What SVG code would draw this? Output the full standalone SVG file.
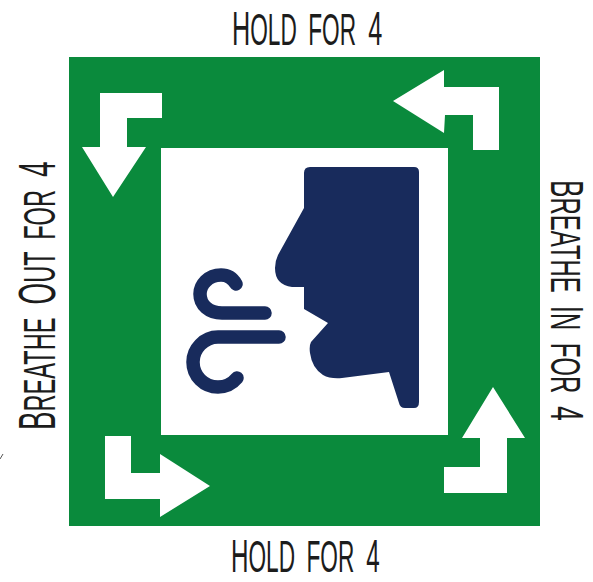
<svg xmlns="http://www.w3.org/2000/svg" width="593" height="582" viewBox="0 0 593 582">
<style>
.lbl{font-family:"Liberation Sans",Arial,sans-serif;fill:#1c1c1c;font-size:49px;word-spacing:10px}
.bot{font-size:47px}
.side{font-size:52px}
.sm{font-size:44px}
.rgt{font-size:46px}
.rs{font-size:42px}
.arrow{fill:#fff}
.wind{fill:none;stroke:#182b5c;stroke-width:13.5;stroke-linecap:round}
</style>
<rect width="593" height="582" fill="#fff"/>
<g id="board"><rect x="69" y="57" width="471" height="469" fill="#0a8a3c"/><rect x="161" y="148" width="287" height="287" fill="#fff"/></g>
<g id="connectors">
<polygon class="arrow" points="162,93 162,118 127,118 127,147 146,147 113,197 82,147 100,147 100,93"/>
<polygon class="arrow" points="499,150 473,150 473,115 445,115 444,133 393,101 444,70 444,87 499,87"/>
<polygon class="arrow" points="444,493 444,467 480,467 480,438 462,438 493,387 525,438 507,438 507,493"/>
<polygon class="arrow" points="105,436 131,436 131,473 160,473 160,454 210,486 160,517 160,499 105,499"/>
</g>
<g id="face">
<path d="M304,173Q304,167 310,167H414Q419,167 419,172V402Q419,408 414,408H405Q400,408 399,403L389,372L342,378Q330,379 323,375Q312,368 310,353Q309,346 311,342L328,323L304,309V287H292Q275,285 275,268Q275,261 278,255L304,208Z" fill="#182b5c"/>
<path class="wind" d="M236,284C232,277 226,275 221,275C208,275 200,285 200,294C200,305 209,313 222,313H265"/>
<path class="wind" d="M279,337H218C204,337 193,349 193,362C193,376 204,387 218,387C225,387 232,384 237,378"/>
</g>
<g id="label-top"><text class="lbl" transform="translate(232,45) scale(.515,1)">H<tspan class="sm">OLD FOR</tspan> 4</text></g>
<g id="label-bottom"><text class="lbl bot" transform="translate(231,572) scale(.515,1)">H<tspan class="sm">OLD FOR</tspan> 4</text></g>
<g id="label-left"><text class="lbl side" transform="translate(55,430) rotate(-90) scale(.536,1)">B<tspan class="sm">REATHE</tspan> O<tspan class="sm">UT FOR</tspan> 4</text></g>
<g id="label-right"><text class="lbl rgt" transform="translate(551,180) rotate(90) scale(.57,1)">B<tspan class="rs">REATHE</tspan> I<tspan class="rs">N FOR</tspan> 4</text></g>
<path d="M0,459L3,454" stroke="#555" fill="none"/>
</svg>
